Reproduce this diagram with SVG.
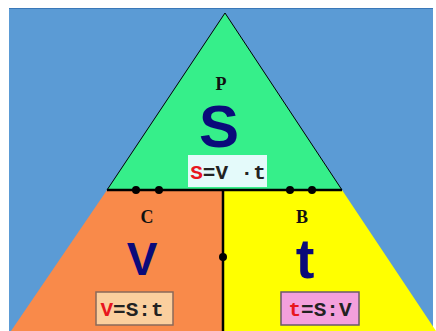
<svg xmlns="http://www.w3.org/2000/svg" width="436" height="331" viewBox="0 0 436 331">
<style>
.lbl{font-family:"Liberation Serif",serif;font-weight:bold;font-size:18px;fill:#111;text-anchor:middle}
.big{font-family:"Liberation Sans",Arial,sans-serif;font-weight:bold;fill:#0a0a7a;text-anchor:middle}
.f{font-family:"Liberation Mono","Courier New",monospace;font-weight:bold;font-size:21px;fill:#222;text-anchor:middle}
.r{fill:#e8161e}
.dot{fill:#000}
.ln{stroke:#000;stroke-width:2.5;fill:none}
</style>
<rect x="0" y="0" width="436" height="331" fill="#fff"/>
<rect x="9" y="8" width="424" height="323" fill="#5b9bd5"/>
<line x1="9" y1="8.5" x2="433" y2="8.5" stroke="#3a78b8" stroke-width="1"/>
<g id="top">
<polygon points="225,13 342,190 107,190" fill="#36ef8a" stroke="#000" stroke-width="1"/>
<text class="lbl" x="221" y="90">P</text>
<text class="big" x="219" y="147" font-size="60">S</text>
<rect x="188" y="155" width="79" height="32" fill="#e4fafa"/>
<text class="f" x="228" y="179" xml:space="preserve"><tspan class="r">S</tspan>=V ·t</text>
</g>
<g id="left">
<polygon points="107,190 223,190 223,331 11,331" fill="#f98a4a"/>
<text class="lbl" x="147" y="223">C</text>
<text class="big" x="142" y="275" font-size="46">V</text>
<rect x="96" y="292" width="77" height="33" fill="#fbcf9e" stroke="#8a6a5a" stroke-width="1.5"/>
<text class="f" x="132" y="316"><tspan class="r">V</tspan>=S:t</text>
</g>
<g id="right">
<polygon points="223,190 342,190 436,331 223,331" fill="#ffff00"/>
<text class="lbl" x="302" y="223">B</text>
<text class="big" x="305" y="278" font-size="56">t</text>
<rect x="281" y="292" width="78" height="33" fill="#f4a0dc" stroke="#6a5a6a" stroke-width="1.5"/>
<text class="f" x="320" y="316"><tspan class="r">t</tspan>=S:V</text>
</g>
<g id="connectors">
<line class="ln" x1="107" y1="190" x2="342" y2="190"/>
<line class="ln" x1="223" y1="190" x2="223" y2="331"/>
<circle class="dot" cx="136" cy="190" r="4"/>
<circle class="dot" cx="159" cy="190" r="4"/>
<circle class="dot" cx="290" cy="190" r="4"/>
<circle class="dot" cx="312" cy="190" r="4"/>
<circle class="dot" cx="223" cy="257" r="4"/>
</g>
</svg>
